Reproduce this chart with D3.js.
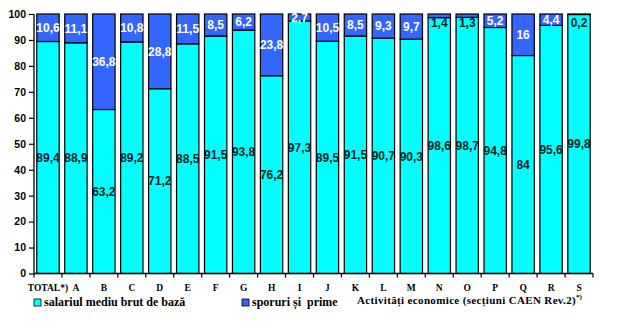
<!DOCTYPE html>
<html><head><meta charset="utf-8">
<script src="https://cdn.jsdelivr.net/npm/d3@7"></script>
<style>
body{margin:0;background:#fff;}
svg{display:block;}
.lbl{font-family:'Liberation Sans Narrow','Arial Narrow','Liberation Sans',sans-serif;font-weight:bold;font-size:12px;}
.ytick{font-family:'Liberation Sans',Arial,sans-serif;font-weight:bold;font-size:10.5px;}
.serif{font-family:'Liberation Serif','Times New Roman',serif;font-weight:bold;}
</style></head><body>
<script>
const categories = ["TOTAL*)","A","B","C","D","E","F","G","H","I","J","K","L","M","N","O","P","Q","R","S"];
const baseSalary = [89.4,88.9,63.2,89.2,71.2,88.5,91.5,93.8,76.2,97.3,89.5,91.5,90.7,90.3,98.6,98.7,94.8,84,95.6,99.8];
const bonuses = [10.6,11.1,36.8,10.8,28.8,11.5,8.5,6.2,23.8,2.7,10.5,8.5,9.3,9.7,1.4,1.3,5.2,16,4.4,0.2];
const yTicks = [0,10,20,30,40,50,60,70,80,90,100];
const seriesNames = ["salariul mediu brut de bază","sporuri și  prime"];
const axisTitle = "Activități economice (secțiuni CAEN Rev.2)";

const W=632,H=336;
const svg=d3.select("body").append("svg").attr("width",W).attr("height",H);
const x=d3.scaleBand().domain(categories).range([34,593]).paddingInner(0.2).paddingOuter(0.1);
const y=d3.scaleLinear().domain([0,100]).range([273.5,14]);
const fmt=v=>String(v).replace(".",",");
const CYAN="#00FFFF",BLUE="#3366FF";

// bars
const g=svg.append("g");
categories.forEach((c,i)=>{
  const b=baseSalary[i],s=bonuses[i];
  g.append("rect").attr("x",x(c)).attr("width",x.bandwidth()).attr("y",y(b)).attr("height",y(0)-y(b))
    .attr("fill",CYAN).attr("stroke","#000").attr("stroke-width",1.2);
  g.append("rect").attr("x",x(c)).attr("width",x.bandwidth()).attr("y",y(b+s)).attr("height",y(b)-y(b+s))
    .attr("fill",BLUE).attr("stroke","#000").attr("stroke-width",1.2);
});
// labels
categories.forEach((c,i)=>{
  const b=baseSalary[i],s=bonuses[i];
  const cx=x(c)+x.bandwidth()/2;
  g.append("text").attr("class","lbl").attr("x",cx).attr("y",y(b/2)).attr("dy","0.36em")
    .attr("text-anchor","middle").attr("fill","#0a2222").text(fmt(b));
  const small=s<2;
  const ly=small? y(100)+9 : y(b+s/2);
  g.append("text").attr("class","lbl").attr("x",cx).attr("y",ly).attr("dy","0.36em")
    .attr("text-anchor","middle").attr("fill",small?"#0a2222":"#fff").text(fmt(s));
});

// y axis
const ya=svg.append("g").attr("transform","translate(34,0)")
  .call(d3.axisLeft(y).tickValues(yTicks).tickSize(5).tickPadding(3));
ya.select(".domain").attr("stroke","#000").attr("stroke-width",1.3).attr("d","M0,"+y(100)+"V"+y(0));
ya.selectAll("text").attr("class","ytick").attr("fill","#000").style("font-size",null).style("font-family",null);
ya.selectAll(".tick line").attr("stroke","#000").attr("stroke-width",1.2);

// x axis
const xa=svg.append("g");
xa.append("line").attr("x1",34).attr("x2",593).attr("y1",y(0)).attr("y2",y(0)).attr("stroke","#000").attr("stroke-width",1.3);
const step=x.step();
const bounds=categories.map(c=>x(c)-step*x.paddingInner()/2);
bounds.push(x(categories[categories.length-1])+x.bandwidth()+step*x.paddingInner()/2);
bounds.forEach(bx=>xa.append("line").attr("x1",bx).attr("x2",bx).attr("y1",y(0)).attr("y2",y(0)+4).attr("stroke","#000").attr("stroke-width",1.2));
categories.forEach(c=>xa.append("text").attr("class","serif").style("font-size","9.5px")
  .attr("x",x(c)+x.bandwidth()/2).attr("y",291).attr("text-anchor","middle").text(c));

// legend
const leg=[{x:34,c:CYAN,t:seriesNames[0]},{x:242,c:BLUE,t:seriesNames[1]}];
leg.forEach(l=>{
  svg.append("rect").attr("x",l.x).attr("y",299).attr("width",7).attr("height",7).attr("fill",l.c).attr("stroke","#000").attr("stroke-width",0.8);
  svg.append("text").attr("class","serif").style("font-size","12px").attr("x",l.x+10).attr("y",306).attr("xml:space","preserve").style("white-space","pre").text(l.t);
});
// axis title
const t=svg.append("text").attr("class","serif").style("font-size","11px").style("letter-spacing","0.35px").attr("x",357).attr("y",303.5);
t.append("tspan").text(axisTitle);
t.append("tspan").attr("dy",-5).style("font-size","7px").style("letter-spacing","0").text("*)");
</script>
</body></html>
